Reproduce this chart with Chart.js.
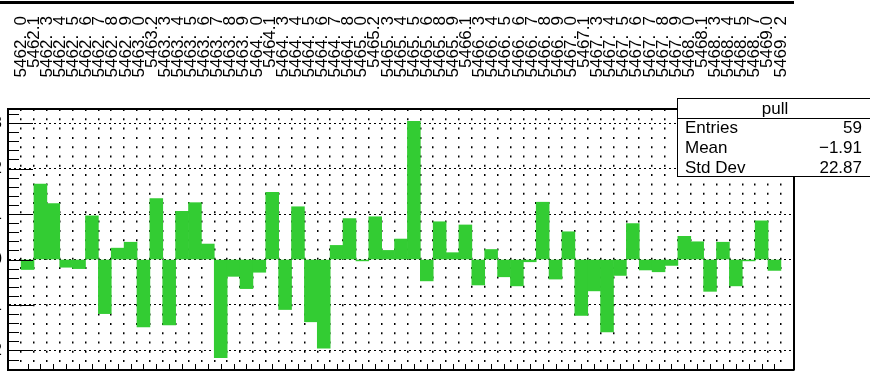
<!DOCTYPE html>
<html>
<head>
<meta charset="utf-8">
<script src="https://cdn.jsdelivr.net/npm/chart.js@4/dist/chart.umd.min.js"></script>
<style>
  html, body { margin: 0; padding: 0; background: #fff; overflow: hidden; }
  body { width: 870px; height: 376px; position: relative; font-family: "Liberation Sans", Arial, sans-serif; }
  #waveAxis { position: absolute; left: 0; top: -30px; }
  #pullPlot { position: absolute; left: -40px; top: 100px; }
  #stats { position: absolute; left: 677px; top: 98px; width: 196px; height: 79px;
           border: 1.5px solid #000; background: #fff; font-size: 17px; color: #000; box-sizing: border-box; }
  #stats .title { position: absolute; left: 0; right: 0; top: 0; height: 19px; line-height: 19px;
                  text-align: center; border-bottom: 1.5px solid #000; }
  #stats .row { position: absolute; left: 7px; right: 10px; height: 20px; line-height: 20px;
                display: flex; justify-content: space-between; }
</style>
</head>
<body>
<canvas id="waveAxis" width="794" height="110"></canvas>
<canvas id="pullPlot" width="838" height="276"></canvas>
<div id="stats">
  <div class="title">pull</div>
  <div class="row" style="top:19px"><span>Entries</span><span>59</span></div>
  <div class="row" style="top:39px"><span>Mean</span><span>−1.91</span></div>
  <div class="row" style="top:59px"><span>Std Dev</span><span>22.87</span></div>
</div>
<script>
// pull per bin
const pulls = [
  -0.22, 1.66, 1.23, -0.17, -0.20, 0.96, -1.19, 0.25, 0.38, -1.48,
  1.34, -1.44, 1.06, 1.25, 0.34, -2.16, -0.37, -0.64, -0.28, 1.48,
  -1.10, 1.16, -1.37, -1.95, 0.31, 0.90, -0.03, 0.94, 0.20, 0.45,
  3.04, -0.47, 0.83, 0.15, 0.76, -0.56, 0.22, -0.38, -0.58, -0.05,
  1.26, -0.43, 0.61, -1.23, -0.69, -1.59, -0.35, 0.79, -0.23, -0.27,
  -0.13, 0.51, 0.39, -0.70, 0.38, -0.58, -0.03, 0.85, -0.24
];

// wavelength labels of the pad above, one per bin
const waveLabels = [
  '5462.  0', '5462.1', '5462.  3', '5462.  4', '5462.  5', '5462.  6', '5462.  7', '5462.  8', '5462.  9',
  '5463.  0', '5463.2', '5463.  3', '5463.  4', '5463.  5', '5463.  6', '5463.  7', '5463.  8', '5463.  9',
  '5464.  0', '5464.1', '5464.  3', '5464.  4', '5464.  5', '5464.  6', '5464.  7', '5464.  8',
  '5465.  0', '5465.2', '5465.  3', '5465.  4', '5465.  5', '5465.  6', '5465.  8', '5465.  9',
  '5466.1', '5466.  3', '5466.  4', '5466.  5', '5466.  6', '5466.  7', '5466.  8', '5466.  9',
  '5467.  0', '5467.1', '5467.  3', '5467.  4', '5467.  5', '5467.  6', '5467.  7', '5467.  8', '5467.  9',
  '5468.  0', '5468.1', '5468.  3', '5468.  4', '5468.  5', '5468.  7',
  '5469.0', '5469.  2'
];

const yMajor = [-2, -1, 0, 1, 2, 3];
const X_MIN = -1, X_MAX = 59;
const Y_MIN = -2.43, Y_MAX = 3.31;

const bins = pulls.map((_, i) => i);
const FONT = '"Liberation Sans", Arial, sans-serif';

// upper pad: only its bottom axis with vertical labels shows
const frameWidth = 786;
const topMin = X_MIN - 8 * (X_MAX - X_MIN) / frameWidth;
new Chart(document.getElementById('waveAxis'), {
  type: 'scatter',
  data: { datasets: [] },
  options: {
    responsive: false,
    animation: false,
    layout: { padding: 0 },
    plugins: { legend: { display: false }, tooltip: { enabled: false } },
    scales: {
      x: {
        type: 'linear', min: topMin, max: X_MAX,
        afterBuildTicks: s => { s.ticks = bins.map(v => ({ value: v })); },
        afterFit: s => { s.height = 78; s.paddingLeft = 0; s.paddingRight = 0; },
        ticks: {
          autoSkip: false, minRotation: 90, maxRotation: 90, padding: 14,
          color: '#000', font: { family: FONT, size: 17 },
          callback: v => waveLabels[v]
        },
        grid: { drawOnChartArea: false, drawTicks: false },
        border: { display: true, color: '#000', width: 3 }
      },
      y: { display: false }
    }
  }
});

// inner tick marks and the remaining frame sides, ROOT style
const rootFrame = {
  id: 'rootFrame',
  afterDatasetsDraw(chart) {
    const { ctx, chartArea: a, scales: { x, y } } = chart;
    ctx.save();
    ctx.strokeStyle = '#000';
    ctx.lineWidth = 1;
    ctx.beginPath();
    for (let k = -12; k <= 16; k++) {
      const v = k / 5;
      if (v < Y_MIN || v > Y_MAX) continue;
      const py = Math.round(y.getPixelForValue(v)) + 0.5;
      ctx.moveTo(a.left, py);
      ctx.lineTo(a.left + (k % 5 === 0 ? 25 : 11), py);
    }
    bins.forEach(i => {
      const px = Math.round(x.getPixelForValue(i)) + 0.5;
      ctx.moveTo(px, a.bottom);
      ctx.lineTo(px, a.bottom - 6);
    });
    ctx.stroke();
    ctx.lineWidth = 2;
    ctx.beginPath();
    ctx.moveTo(a.left, a.top);
    ctx.lineTo(a.right, a.top);
    ctx.lineTo(a.right, a.bottom);
    ctx.stroke();
    ctx.restore();
  }
};

new Chart(document.getElementById('pullPlot'), {
  type: 'bar',
  data: {
    datasets: [{
      data: pulls.map((v, i) => ({ x: i, y: v })),
      backgroundColor: '#33cc33',
      borderWidth: 0,
      barPercentage: 1,
      categoryPercentage: 1
    }]
  },
  options: {
    responsive: false,
    animation: false,
    layout: { padding: { top: 9, right: 4, bottom: 6, left: 0 } },
    plugins: { legend: { display: false }, tooltip: { enabled: false } },
    scales: {
      x: {
        type: 'linear', min: X_MIN, max: X_MAX,
        afterBuildTicks: s => { s.ticks = bins.map(v => ({ value: v })); },
        afterFit: s => { s.height = 0; s.paddingLeft = 0; s.paddingRight = 0; },
        ticks: { display: false },
        grid: { color: '#000', lineWidth: 1.5, drawTicks: false },
        border: { color: '#000', width: 2, dash: [2, 7.3] }
      },
      y: {
        min: Y_MIN, max: Y_MAX,
        afterBuildTicks: s => { s.ticks = yMajor.map(v => ({ value: v })); },
        afterFit: s => { s.width = 48; s.paddingTop = 0; s.paddingBottom = 0; },
        ticks: {
          padding: 6, color: '#000', font: { family: FONT, size: 17 },
          callback: v => (v < 0 ? '\u2212' + (-v) : String(v))
        },
        grid: { color: '#000', lineWidth: 1, drawTicks: false },
        border: { color: '#000', width: 2, dash: [2, 3] }
      }
    }
  },
  plugins: [rootFrame]
});
</script>
</body>
</html>
